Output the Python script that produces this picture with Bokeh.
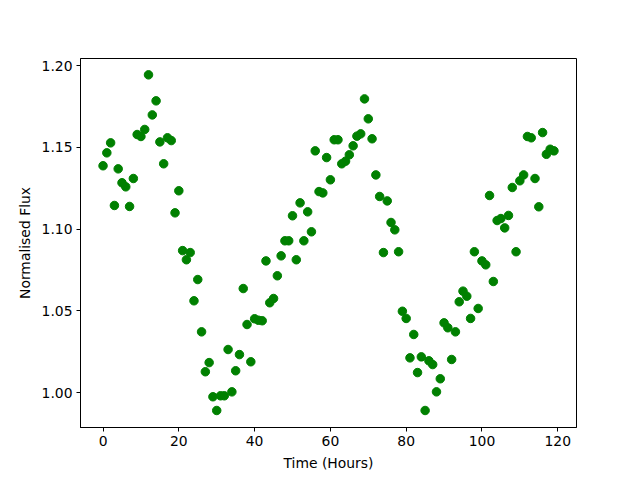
from bokeh.plotting import figure
from bokeh.models import Range1d, FixedTicker, PrintfTickFormatter, ColumnDataSource
from bokeh.embed import file_html
from bokeh.resources import INLINE

hours = list(range(120))
flux = [
    1.1387, 1.1466, 1.1527, 1.1144, 1.1368, 1.1283, 1.1258, 1.1138, 1.1309, 1.1578,
    1.1566, 1.1609, 1.1943, 1.1698, 1.1784, 1.1533, 1.1399, 1.1558, 1.1541, 1.1099,
    1.1234, 1.0868, 1.0812, 1.0856, 1.0561, 1.0691, 1.0371, 1.0127, 1.0183, 0.9974,
    0.9890, 0.9980, 0.9980, 1.0263, 1.0004, 1.0133, 1.0232, 1.0636, 1.0416, 1.0188,
    1.0451, 1.0442, 1.0439, 1.0805, 1.0549, 1.0575, 1.0714, 1.0836, 1.0928, 1.0928,
    1.1081, 1.0812, 1.1160, 1.0928, 1.1105, 1.0983, 1.1478, 1.1229, 1.1221, 1.1437,
    1.1301, 1.1546, 1.1546, 1.1399, 1.1415, 1.1454, 1.1509, 1.1568, 1.1582, 1.1796,
    1.1674, 1.1552, 1.1331, 1.1199, 1.0856, 1.1172, 1.1040, 1.0995, 1.0861, 1.0497,
    1.0453, 1.0212, 1.0355, 1.0122, 1.0218, 0.9890, 1.0194, 1.0171, 1.0004, 1.0084,
    1.0426, 1.0396, 1.0202, 1.0371, 1.0555, 1.0620, 1.0589, 1.0453, 1.0861, 1.0514,
    1.0805, 1.0781, 1.1205, 1.0679, 1.1052, 1.1064, 1.1007, 1.1083, 1.1254, 1.0861,
    1.1295, 1.1331, 1.1566, 1.1558, 1.1309, 1.1136, 1.1590, 1.1457, 1.1488, 1.1478,
]
x_ticks = [0, 20, 40, 60, 80, 100, 120]
y_ticks = [1.00, 1.05, 1.10, 1.15, 1.20]
x_label = "Time (Hours)"
y_label = "Normalised Flux"

src = ColumnDataSource(data=dict(t=hours, f=flux))

p = figure(
    frame_width=496, frame_height=369,
    min_border_left=80, min_border_right=56, min_border_top=58, min_border_bottom=45,
    x_range=Range1d(-5.95, 124.95), y_range=Range1d(0.9786, 1.2043),
    output_backend="svg", toolbar_location=None,
)
p.scatter("t", "f", source=src, size=8.5, color="green", line_color="green")

p.xgrid.visible = False
p.ygrid.visible = False
p.outline_line_color = "black"
p.outline_line_width = 1
p.outline_line_alpha = 1
p.background_fill_color = "white"
p.border_fill_color = "white"

p.xaxis.ticker = FixedTicker(ticks=x_ticks)
p.yaxis.ticker = FixedTicker(ticks=y_ticks)
p.yaxis.formatter = PrintfTickFormatter(format="%.2f")
p.xaxis.axis_label = x_label
p.yaxis.axis_label = y_label

for ax in (p.xaxis[0], p.yaxis[0]):
    ax.minor_tick_line_color = None
    ax.major_tick_in = 0
    ax.major_tick_out = 4
    ax.major_tick_line_color = "black"
    ax.axis_line_color = "black"
    ax.major_label_text_font = "DejaVu Sans"
    ax.major_label_text_font_size = "13.9px"
    ax.major_label_text_color = "black"
    ax.axis_label_text_font = "DejaVu Sans"
    ax.axis_label_text_font_size = "13.9px"
    ax.axis_label_text_font_style = "normal"
    ax.axis_label_text_color = "black"
    ax.major_label_standoff = 4
    ax.axis_label_standoff = 6

open("out.html", "w").write(file_html(p, INLINE))
